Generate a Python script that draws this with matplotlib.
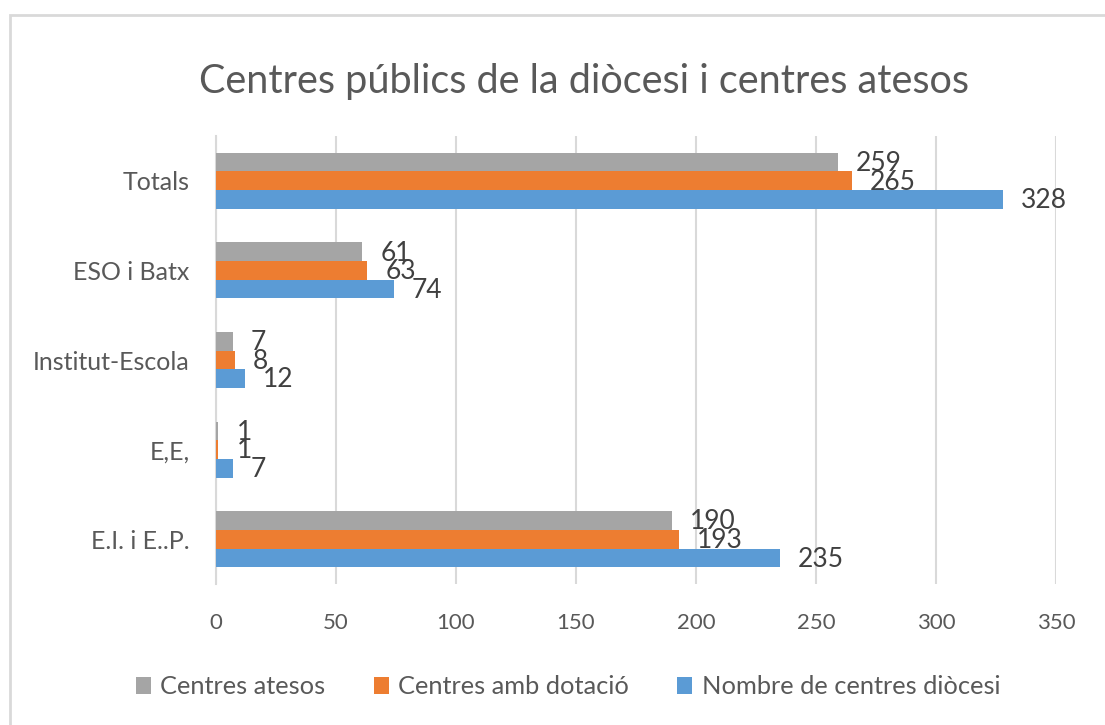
import matplotlib
matplotlib.use("Agg")
import matplotlib.pyplot as plt
import numpy as np
from matplotlib.patches import Rectangle

categories = ["E.I. i E..P.", "E,E,", "Institut-Escola", "ESO i Batx", "Totals"]
nombre = [235, 7, 12, 74, 328]
dotacio = [193, 1, 8, 63, 265]
atesos = [190, 1, 7, 61, 259]
xticks = [0, 50, 100, 150, 200, 250, 300, 350]

C_BLUE = "#5B9BD5"
C_ORANGE = "#ED7D31"
C_GRAY = "#A5A5A5"
TXT = "#595959"
GRID = "#D9D9D9"

plt.rcParams['font.family'] = ['Lato', 'DejaVu Sans']

fig = plt.figure(figsize=(11.05, 7.25), dpi=100)
# outer border
fig.patches.append(Rectangle((10/1105, -0.1), 1.2, 1 - 15/725 + 0.1, transform=fig.transFigure,
                             fill=False, edgecolor=GRID, linewidth=2))

ax = fig.add_axes([216/1105, 1-584/725, 840/1105, 448/725])
y = np.arange(len(categories))
h = 0.208
ax.barh(y - h, nombre, height=h, color=C_BLUE, label="Nombre de centres diòcesi", zorder=3)
ax.barh(y, dotacio, height=h, color=C_ORANGE, label="Centres amb dotació", zorder=3)
ax.barh(y + h, atesos, height=h, color=C_GRAY, label="Centres atesos", zorder=3)

for vals, off in [(nombre, -h), (dotacio, 0), (atesos, h)]:
    for yi, v in zip(y, vals):
        ax.text(v + 7.5, yi + off - 0.015, str(v), va="center", ha="left",
                fontsize=19, color="#404040", zorder=4)

ax.set_xlim(0, 350)
ax.set_ylim(-0.5, 4.5)
ax.set_xticks(xticks)
ax.set_yticks(y)
ax.set_yticklabels(categories)
ax.tick_params(axis="both", length=0, colors=TXT)
ax.tick_params(axis="x", pad=21, labelsize=16)
ax.tick_params(axis="y", pad=19, labelsize=18)
ax.grid(axis="x", color=GRID, linewidth=1.5, zorder=0)
for s in ["top", "right", "bottom"]:
    ax.spines[s].set_visible(False)
ax.spines["left"].set_color(GRID)
ax.spines["left"].set_linewidth(1.5)

fig.text(584/1105, 1 - 82/725, "Centres públics de la diòcesi i centres atesos",
         ha="center", va="center", fontsize=28.5, color=TXT)

handles, labels = ax.get_legend_handles_labels()
order = [2, 1, 0]
fig.legend([handles[i] for i in order], [labels[i] for i in order],
           loc="center", bbox_to_anchor=(568/1105, 1 - 687/725), ncol=3, frameon=False,
           fontsize=18.3, labelcolor=TXT, handlelength=0.6, handleheight=0.6,
           columnspacing=1.9, handletextpad=0.36)

fig.savefig("out.png", dpi=100)
